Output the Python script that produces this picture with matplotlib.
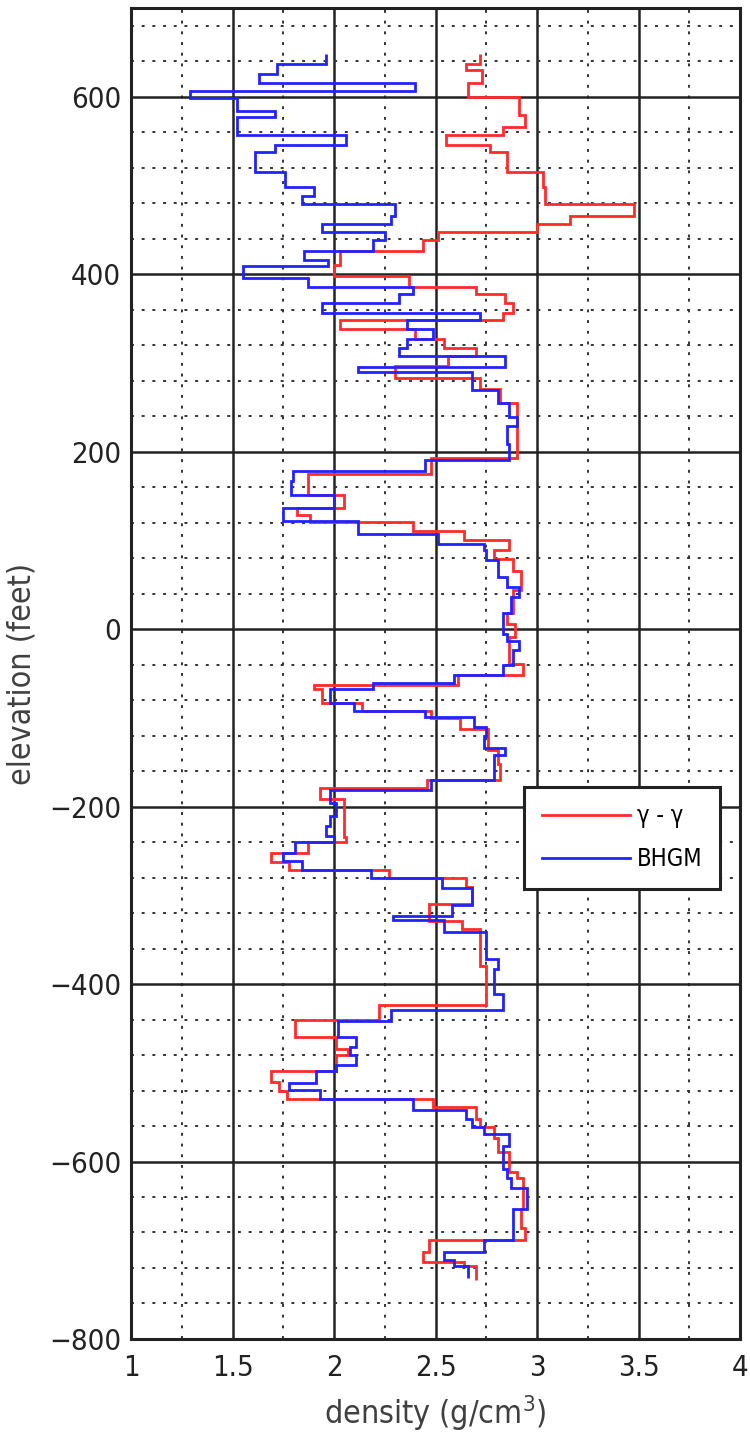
import matplotlib
matplotlib.use("Agg")
import matplotlib.pyplot as plt
import numpy as np

plt.rcParams['font.family'] = ['DejaVu Sans']
plt.rcParams['font.stretch'] = 'condensed'

# layer boundaries (feet, top -> bottom) and density in each layer (g/cm^3)
bhgm_edges = [648, 637, 626, 615, 606, 598, 584, 577, 557, 546,
              538, 515, 498, 488, 479, 465, 456, 448, 438, 426,
              416, 409, 396, 386, 378, 368, 356, 348, 338, 327,
              317, 308, 295, 290, 269, 255, 239, 229, 209, 190,
              178, 167, 151, 137, 122, 107, 96, 89, 78, 59,
              47, 36, 18, -5, -13, -24, -40, -52, -61, -68,
              -83, -92, -99, -110, -121, -134, -142, -170, -181, -196,
              -211, -222, -233, -240, -252, -261, -271, -281, -292, -311,
              -323, -328, -341, -372, -383, -411, -429, -442, -460, -471,
              -480, -491, -498, -512, -519, -529, -542, -552, -561, -569,
              -582, -608, -619, -630, -653, -688, -702, -711, -718, -731]
bhgm_density = [1.96, 1.72, 1.63, 2.40, 1.29, 1.52, 1.71, 1.52, 2.06, 1.71,
                1.61, 1.76, 1.90, 1.84, 2.30, 2.28, 1.94, 2.25, 2.19, 1.85,
                1.97, 1.55, 1.87, 2.39, 2.32, 1.94, 2.72, 2.36, 2.49, 2.36,
                2.32, 2.84, 2.12, 2.68, 2.81, 2.86, 2.90, 2.85, 2.86, 2.45,
                1.80, 1.79, 2.00, 1.75, 2.12, 2.51, 2.74, 2.75, 2.81, 2.85,
                2.91, 2.87, 2.83, 2.85, 2.91, 2.88, 2.83, 2.59, 2.19, 1.98,
                2.10, 2.45, 2.69, 2.75, 2.74, 2.84, 2.79, 2.48, 1.98, 2.01,
                1.98, 1.96, 2.00, 1.81, 1.75, 1.84, 2.18, 2.53, 2.68, 2.58,
                2.29, 2.54, 2.75, 2.81, 2.79, 2.83, 2.28, 2.02, 2.11, 2.08,
                2.11, 2.01, 1.91, 1.78, 1.93, 2.39, 2.65, 2.68, 2.74, 2.86,
                2.83, 2.85, 2.87, 2.95, 2.88, 2.74, 2.54, 2.59, 2.66]

gg_edges = [648, 637, 630, 615, 600, 579, 566, 557, 545, 538,
            515, 498, 479, 466, 456, 448, 438, 426, 410, 398,
            386, 378, 368, 356, 348, 338, 327, 317, 308, 296,
            283, 270, 255, 193, 175, 151, 137, 128, 121, 111,
            100, 89, 79, 66, 44, 18, 6, -9, -39, -52,
            -63, -68, -83, -92, -100, -113, -136, -152, -170, -179,
            -192, -234, -240, -252, -263, -272, -281, -291, -310, -329,
            -338, -380, -424, -441, -460, -473, -480, -498, -510, -521,
            -530, -539, -552, -561, -574, -589, -612, -619, -653, -675,
            -688, -702, -713, -718, -733]
gg_density = [2.72, 2.65, 2.73, 2.66, 2.91, 2.94, 2.83, 2.55, 2.77,
              2.85, 3.03, 3.04, 3.48, 3.16, 3.00, 2.51, 2.44, 2.03, 2.00,
              2.37, 2.70, 2.84, 2.88, 2.83, 2.03, 2.40, 2.54, 2.70, 2.56,
              2.30, 2.72, 2.82, 2.90, 2.48, 1.87, 2.05, 1.82, 1.88, 2.39,
              2.64, 2.86, 2.79, 2.88, 2.92, 2.88, 2.85, 2.89, 2.86, 2.93,
              2.61, 1.90, 1.94, 2.14, 2.48, 2.62, 2.76, 2.81, 2.82, 2.46,
              1.93, 2.05, 2.06, 1.87, 1.69, 1.78, 2.27, 2.65, 2.68, 2.47,
              2.63, 2.72, 2.75, 2.22, 1.81, 2.01, 2.07, 2.01, 1.69, 1.73,
              1.77, 2.49, 2.70, 2.72, 2.79, 2.81, 2.86, 2.90, 2.93, 2.92,
              2.94, 2.47, 2.44, 2.64, 2.70]

x_ticks = [1, 1.5, 2, 2.5, 3, 3.5, 4]
x_tick_labels = ['1', '1.5', '2', '2.5', '3', '3.5', '4']
y_ticks = [-800, -600, -400, -200, 0, 200, 400, 600]

fig = plt.figure(figsize=(7.5, 14.41), dpi=100)
ax = fig.add_axes([0.1747, 0.0708, 0.812, 0.9237])

# stairs wants increasing edges, so flip the top->bottom lists
ax.stairs(gg_density[::-1], gg_edges[::-1], orientation='horizontal',
          baseline=None, color='#ff2a2a', lw=2.0, label='γ - γ', zorder=3)
ax.stairs(bhgm_density[::-1], bhgm_edges[::-1], orientation='horizontal',
          baseline=None, color='#2222ff', lw=2.0, label='BHGM', zorder=4)

ax.set_xlim(1, 4)
ax.set_ylim(-800, 700)
ax.set_xticks(x_ticks)
ax.set_xticklabels(x_tick_labels)
ax.set_yticks(y_ticks)
ax.set_xticks(np.arange(1.25, 4, 0.5), minor=True)
ax.set_yticks([v for v in range(-760, 700, 40) if v % 200 != 0], minor=True)

ax.grid(which='major', color='#222222', ls='-', lw=1.8, zorder=1)
ax.grid(which='minor', color='#333333', ls=(0, (1.5, 4)), lw=1.4, zorder=1)
ax.tick_params(which='both', length=0, labelsize=21, colors='#222222')
ax.tick_params(axis='x', pad=11)
ax.tick_params(axis='y', pad=7)

for s in ax.spines.values():
    s.set_linewidth(2.2)
    s.set_color('#222222')

ax.set_xlabel('density (g/cm$^3$)', fontsize=23, color='#404040', labelpad=8)
ax.set_ylabel('elevation (feet)', fontsize=23, color='#404040', labelpad=8)

leg = ax.legend(loc='upper right', bbox_to_anchor=(0.967, 0.415), fontsize=17,
                borderaxespad=0, fancybox=False, framealpha=1, borderpad=0.75,
                handlelength=3.7, handletextpad=0.3, labelspacing=0.8)
leg.get_frame().set_edgecolor('#222222')
leg.get_frame().set_linewidth(2.2)

fig.savefig('out.png', dpi=100)
